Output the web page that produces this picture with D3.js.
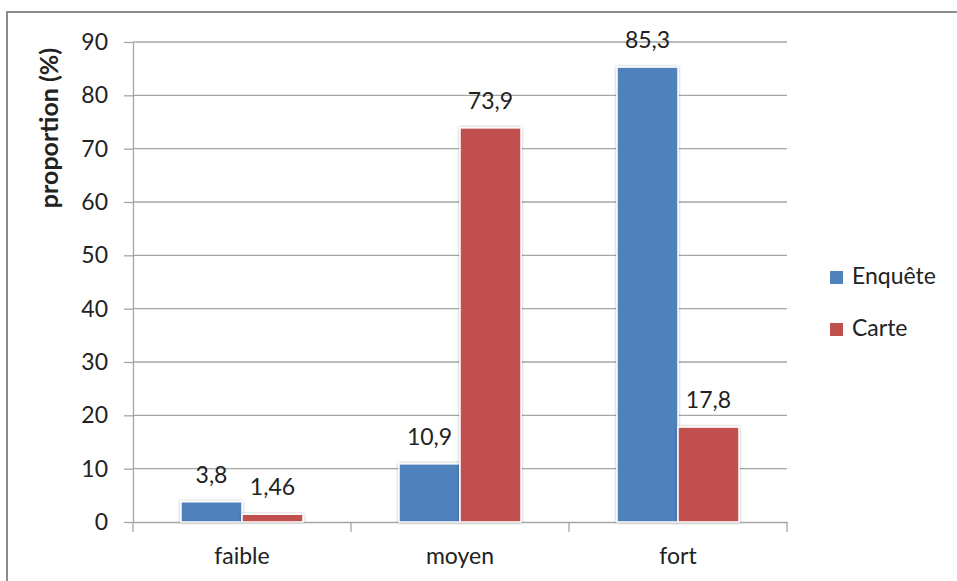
<!DOCTYPE html>
<html>
<head>
<meta charset="utf-8">
<script src="https://cdn.jsdelivr.net/npm/d3@7"></script>
<style>
  html, body { margin: 0; padding: 0; background: #fff; }
  svg { display: block; }
  text { font-family: Lato, "Open Sans", sans-serif; fill: #222; }
</style>
</head>
<body>
<svg id="chart" width="957" height="581"></svg>
<script>
// Categories, series and values
const categories = ["faible", "moyen", "fort"];
const seriesNames = ["Enquête", "Carte"];
const enquete = [3.8, 10.9, 85.3];
const carte = [1.46, 73.9, 17.8];
const valueLabels = [["3,8", "10,9", "85,3"], ["1,46", "73,9", "17,8"]];
const yTicks = [0, 10, 20, 30, 40, 50, 60, 70, 80, 90];
const colors = ["#4F81BD", "#C0504D"];

const svg = d3.select("#chart");

// Outer frame (top and left edges visible)
svg.append("path")
  .attr("d", "M7,600 L7,12 L960,12")
  .attr("fill", "none")
  .attr("stroke", "#8c8c8c")
  .attr("stroke-width", 2);

const plot = { left: 133, right: 787, top: 42, bottom: 522 };

const y = d3.scaleLinear().domain([0, 90]).range([plot.bottom, plot.top]);
const x0 = d3.scaleBand().domain(categories).range([plot.left, plot.right]).padding(0);
const x1 = d3.scaleBand().domain(seriesNames).range([0, x0.bandwidth()])
  .paddingInner(0).paddingOuter(0.787);

// Soft shadow around bars
const defs = svg.append("defs");
const f = defs.append("filter").attr("id", "barShadow")
  .attr("x", "-20%").attr("y", "-20%").attr("width", "140%").attr("height", "140%");
f.append("feDropShadow").attr("dx", 0).attr("dy", 0)
  .attr("stdDeviation", 1.6).attr("flood-color", "#000").attr("flood-opacity", 0.3);

// Horizontal gridlines
svg.append("g")
  .selectAll("line")
  .data(yTicks.filter(t => t > 0))
  .join("line")
  .attr("x1", plot.left).attr("x2", plot.right)
  .attr("y1", d => y(d)).attr("y2", d => y(d))
  .attr("stroke", "#a6a6a6").attr("stroke-width", 1.3);

// Y axis
const yAxis = svg.append("g")
  .attr("transform", `translate(${plot.left},0)`)
  .call(d3.axisLeft(y).tickValues(yTicks).tickSize(9).tickPadding(16).tickSizeOuter(0));
yAxis.select(".domain").attr("stroke", "#a6a6a6").attr("stroke-width", 1.3);
yAxis.selectAll(".tick line").attr("stroke", "#a6a6a6").attr("stroke-width", 1.3);
yAxis.selectAll(".tick text")
  .attr("font-size", 23).attr("font-family", "Lato, sans-serif").attr("fill", "#262626");

// X axis
const xAxis = svg.append("g")
  .attr("transform", `translate(0,${plot.bottom})`)
  .call(d3.axisBottom(x0).tickSize(0).tickPadding(26).tickSizeOuter(0));
xAxis.select(".domain").attr("stroke", "#a6a6a6").attr("stroke-width", 1.3);
xAxis.selectAll(".tick text")
  .attr("font-size", 23).attr("font-family", "Lato, sans-serif").attr("fill", "#262626");

// Category separator ticks below the x axis
const boundaries = categories.map(c => x0(c)).concat([plot.right]);
svg.append("g")
  .selectAll("line")
  .data(boundaries)
  .join("line")
  .attr("x1", d => d).attr("x2", d => d)
  .attr("y1", plot.bottom).attr("y2", plot.bottom + 10)
  .attr("stroke", "#a6a6a6").attr("stroke-width", 1.3);

// Bars
const seriesData = [enquete, carte];
const groups = svg.append("g").selectAll("g")
  .data(seriesNames)
  .join("g");

groups.each(function(name, si) {
  const g = d3.select(this);
  g.selectAll("rect")
    .data(categories.map((c, i) => ({ c, v: seriesData[si][i], label: valueLabels[si][i] })))
    .join("rect")
    .attr("x", d => x0(d.c) + x1(name))
    .attr("y", d => y(d.v))
    .attr("width", x1.bandwidth())
    .attr("height", d => y(0) - y(d.v))
    .attr("fill", colors[si])
    .attr("stroke", "#fff")
    .attr("stroke-width", 1.5)
    .attr("filter", "url(#barShadow)");

  g.selectAll("text")
    .data(categories.map((c, i) => ({ c, v: seriesData[si][i], label: valueLabels[si][i] })))
    .join("text")
    .attr("x", d => x0(d.c) + x1(name) + x1.bandwidth() / 2)
    .attr("y", d => y(d.v) - 19)
    .attr("text-anchor", "middle")
    .attr("font-size", 23)
    .attr("fill", "#262626")
    .text(d => d.label);
});

// Y axis title
svg.append("text")
  .attr("transform", "translate(58,128) rotate(-90)")
  .attr("text-anchor", "middle")
  .attr("font-size", 25)
  .attr("font-weight", "bold")
  .attr("fill", "#000")
  .text("proportion (%)");

// Legend
const legend = svg.append("g").attr("transform", "translate(830,271)");
seriesNames.forEach((name, i) => {
  const row = legend.append("g").attr("transform", `translate(0,${i * 52})`);
  row.append("rect").attr("width", 13).attr("height", 13).attr("fill", colors[i]);
  row.append("text").attr("x", 22).attr("y", 13)
    .attr("font-size", 23).attr("fill", "#262626").text(name);
});
</script>
</body>
</html>
